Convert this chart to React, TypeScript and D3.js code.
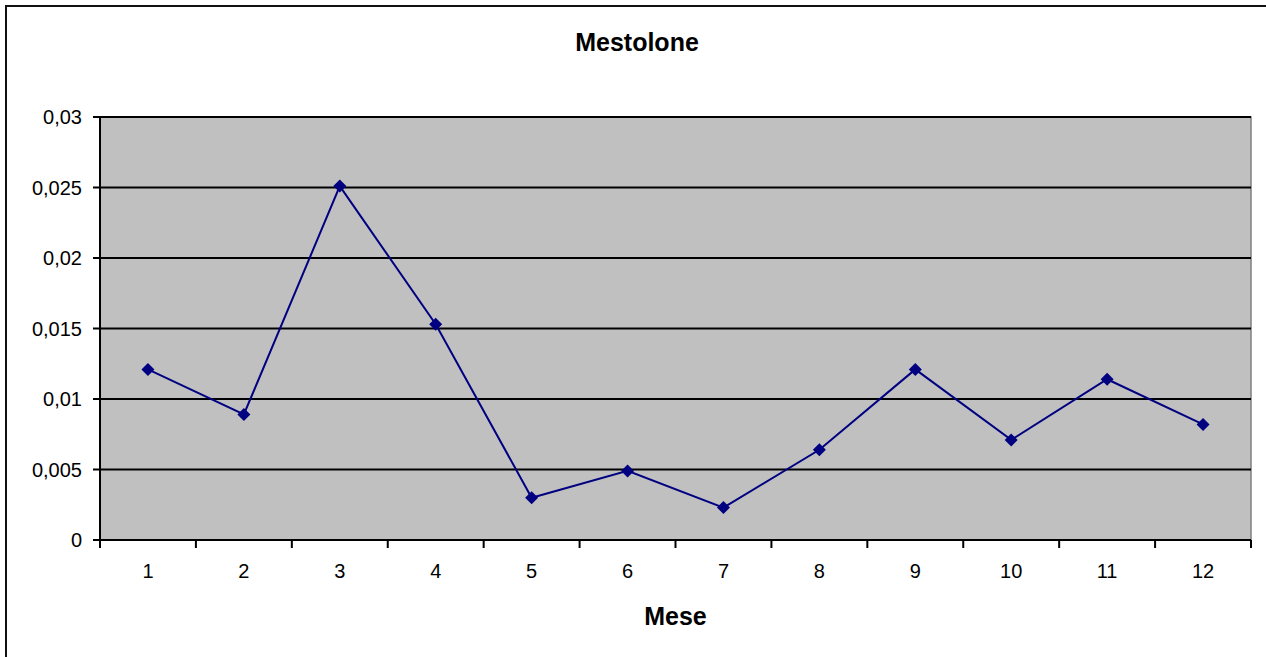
import React from "react";
import * as d3 from "d3";

const months = ["1", "2", "3", "4", "5", "6", "7", "8", "9", "10", "11", "12"];
const values = [0.0121, 0.0089, 0.0251, 0.0153, 0.0030, 0.0049, 0.0023, 0.0064, 0.0121, 0.0071, 0.0114, 0.0082];
const yTicks = [0, 0.005, 0.01, 0.015, 0.02, 0.025, 0.03];
const title = "Mestolone";
const xTitle = "Mese";

const W = 1266;
const H = 657;
const left = 100;
const right = 1251;
const top = 117;
const bottom = 540;
const font = "'Liberation Sans', Arial, sans-serif";

export default function App() {
  const x = d3.scaleBand<string>().domain(months).range([left, right]).padding(0);
  const y = d3.scaleLinear().domain([0, 0.03]).range([bottom, top]);
  const fmt = (v: number) => (v === 0 ? "0" : String(+v.toFixed(3)).replace(".", ","));
  const line = d3
    .line<number>()
    .x((_, i) => (x(months[i]) as number) + x.bandwidth() / 2)
    .y((d) => y(d));
  const bounds = [...months.map((m) => x(m) as number), right];
  const ms = 6.5;

  return (
    <svg
      width={W}
      height={H}
      style={{ position: "absolute", left: 0, top: 0, background: "#fff" }}
      fontFamily={font}
    >
      <rect x={6} y={6} width={1270} height={660} fill="#fff" stroke="#111" strokeWidth={2} />
      <text x={637} y={51} textAnchor="middle" fontSize={25} fontWeight="bold" fill="#000">
        {title}
      </text>
      <rect x={left} y={top} width={right - left} height={bottom - top} fill="#C0C0C0" stroke="#808080" strokeWidth={1.5} />
      {yTicks.slice(1).map((t) => (
        <line key={t} x1={left} x2={right} y1={y(t)} y2={y(t)} stroke="#000" strokeWidth={2} />
      ))}
      {yTicks.map((t) => (
        <g key={"yt" + t}>
          <line x1={left - 7} x2={left} y1={y(t)} y2={y(t)} stroke="#000" strokeWidth={2} />
          <text x={82} y={y(t)} dy="0.36em" textAnchor="end" fontSize={20} fill="#000">
            {fmt(t)}
          </text>
        </g>
      ))}
      <line x1={left} x2={left} y1={top} y2={bottom + 1} stroke="#000" strokeWidth={2} />
      <line x1={left} x2={right} y1={bottom} y2={bottom} stroke="#000" strokeWidth={2} />
      {bounds.map((b, i) => (
        <line key={"xt" + i} x1={b} x2={b} y1={bottom} y2={bottom + 8} stroke="#000" strokeWidth={2} />
      ))}
      {months.map((m) => (
        <text
          key={"xl" + m}
          x={(x(m) as number) + x.bandwidth() / 2}
          y={578}
          textAnchor="middle"
          fontSize={20}
          fill="#000"
        >
          {m}
        </text>
      ))}
      <text x={(left + right) / 2} y={625} textAnchor="middle" fontSize={25} fontWeight="bold" fill="#000">
        {xTitle}
      </text>
      <path d={line(values) || ""} fill="none" stroke="#000080" strokeWidth={2} />
      {values.map((v, i) => {
        const cx = (x(months[i]) as number) + x.bandwidth() / 2;
        const cy = y(v);
        return (
          <path
            key={"m" + i}
            d={`M${cx},${cy - ms}L${cx + ms},${cy}L${cx},${cy + ms}L${cx - ms},${cy}Z`}
            fill="#000080"
          />
        );
      })}
    </svg>
  );
}
